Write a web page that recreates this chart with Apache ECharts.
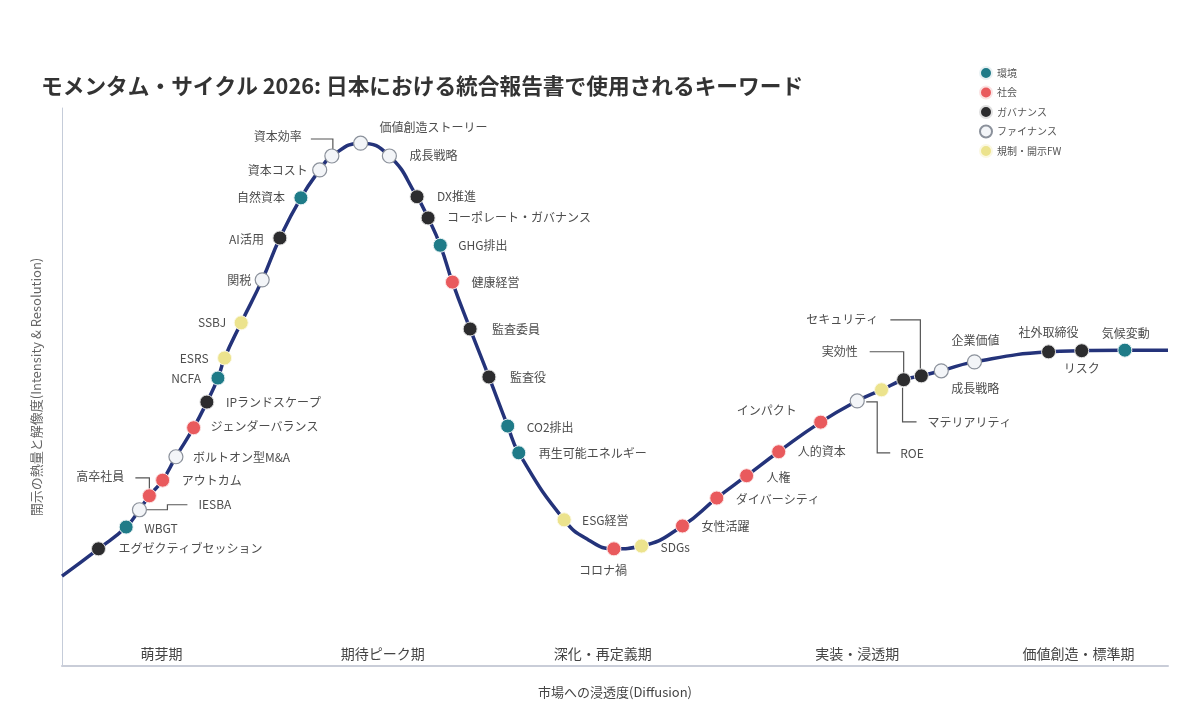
<!DOCTYPE html>
<html>
<head>
<meta charset="utf-8">
<script src="https://cdn.jsdelivr.net/npm/echarts@6/dist/echarts.min.js"></script>
<style>
  html, body { margin: 0; background: #fff; }
  #chart { width: 1200px; height: 716px; }
</style>
</head>
<body>
<div id="chart"></div>
<script>
// legend groups
const groups = ['環境', '社会', 'ガバナンス', 'ファイナンス', '規制・開示FW'];

// keywords along the cycle (left → right)
const keywords = [
  'エグゼクティブセッション', 'WBGT', 'IESBA', '高卒社員', 'アウトカム', 'ボルトオン型M&A',
  'ジェンダーバランス', 'IPランドスケープ', 'NCFA', 'ESRS', 'SSBJ', '関税', 'AI活用', '自然資本',
  '資本コスト', '資本効率', '価値創造ストーリー', '成長戦略', 'DX推進', 'コーポレート・ガバナンス',
  'GHG排出', '健康経営', '監査委員', '監査役', 'CO2排出', '再生可能エネルギー', 'ESG経営',
  'コロナ禍', 'SDGs', '女性活躍', 'ダイバーシティ', '人権', '人的資本', 'インパクト', 'ROE',
  'マテリアリティ', '実効性', 'セキュリティ', '成長戦略', '企業価値', '社外取締役', 'リスク', '気候変動'
];
const keywordGroup = [
  'ガバナンス', '環境', 'ファイナンス', '社会', '社会', 'ファイナンス',
  '社会', 'ガバナンス', '環境', '規制・開示FW', '規制・開示FW', 'ファイナンス', 'ガバナンス', '環境',
  'ファイナンス', 'ファイナンス', 'ファイナンス', 'ファイナンス', 'ガバナンス', 'ガバナンス',
  '環境', '社会', 'ガバナンス', 'ガバナンス', '環境', '環境', '規制・開示FW',
  '社会', '規制・開示FW', '社会', '社会', '社会', '社会', '社会', 'ファイナンス',
  '規制・開示FW', 'ガバナンス', 'ガバナンス', 'ファイナンス', 'ファイナンス', 'ガバナンス', 'ガバナンス', '環境'
];
const diffusion = [
  3.3, 5.8, 7.0, 7.9, 9.1, 10.3,
  11.9, 13.1, 14.1, 14.7, 16.2, 18.1, 19.7, 21.6,
  23.3, 24.4, 27.0, 29.6, 32.1, 33.1,
  34.2, 35.3, 36.9, 38.6, 40.3, 41.3, 45.4,
  49.9, 52.4, 56.1, 59.2, 61.9, 64.8, 68.6, 71.9,
  74.1, 76.1, 77.7, 79.5, 82.5, 89.2, 92.2, 96.1
];
const intensity = [
  21.0, 24.9, 28.0, 30.5, 33.3, 37.5,
  42.7, 47.3, 51.6, 55.2, 61.5, 69.2, 76.7, 83.9,
  88.9, 91.4, 93.7, 91.4, 84.1, 80.3,
  75.4, 68.8, 60.4, 51.8, 43.0, 38.2, 26.2,
  21.0, 21.5, 25.1, 30.1, 34.1, 38.4, 43.7, 47.5,
  49.5, 51.3, 52.0, 52.9, 54.5, 56.3, 56.5, 56.6
];
// extra curve points (ends and trough)
const curveX = [0, 47.6, 100];
const curveY = [16.1, 22.6, 56.6];

// phase labels along the x axis
const phases = ['萌芽期', '期待ピーク期', '深化・再定義期', '実装・浸透期', '価値創造・標準期'];
const phaseAt = [9.0, 29.0, 48.9, 71.9, 91.9];

// label placement per keyword: [dx, dy, align] in px from the dot
const labelPos = [
  [20, 0, 'left'], [18, 1, 'left'], [59, -5, 'left'], [-25, -19, 'right'], [19, 0, 'left'], [17, 1, 'left'],
  [17, -1, 'left'], [19, 0, 'left'], [-17, 0, 'right'], [-16, 0, 'right'], [-15, 0, 'right'], [-11, 1, 'right'],
  [-16, 1, 'right'], [-16, 0, 'right'],
  [-12, 0, 'right'], [-30, -20, 'right'], [19, -16, 'left'], [20, -1, 'left'], [20, 0, 'left'], [19, 0, 'left'],
  [18, 0, 'left'], [19, 0, 'left'], [22, 0, 'left'], [21, 0, 'left'], [19, 1, 'left'], [20, 1, 'left'], [18, 1, 'left'],
  [-11, 22, 'center'], [19, 1, 'left'], [19, 0, 'left'], [19, 1, 'left'], [20, 2, 'left'], [19, 0, 'left'],
  [-24, -12, 'right'], [43, 52, 'left'],
  [46, 33, 'left'], [-46, -28, 'right'], [-43, -56, 'right'], [10, 18, 'left'], [1, -21, 'center'],
  [0, -19, 'center'], [0, 18, 'center'], [1, -17, 'center']
];

// elbow leader lines, px offsets from the dot
const leaders = {
  2: [[6, 0], [28, 0], [28, -5], [48, -5]],
  3: [[0, -4], [0, -18], [-14, -18]],
  15: [[1, -5], [1, -17], [-21, -17]],
  34: [[9, 1], [20, 1], [20, 52], [33, 52]],
  35: [[21, -2], [21, 32], [35, 32]],
  36: [[0, -4], [0, -28], [-34, -28]],
  37: [[-1, -5], [-1, -56], [-31, -56]]
};

const groupStyle = {
  '環境': { color: '#1f7b88', borderColor: '#e8f1f3', borderWidth: 1, opacity: 1 },
  '社会': { color: '#e95a5d', borderColor: '#fbe3e3', borderWidth: 1, opacity: 1 },
  'ガバナンス': { color: '#2c2c2e', borderColor: '#e0e0e0', borderWidth: 1, opacity: 1 },
  'ファイナンス': { color: '#f3f5f8', borderColor: '#8b919b', borderWidth: 1.2, opacity: 1 },
  '規制・開示FW': { color: '#ece38d', borderColor: '#fbf8e2', borderWidth: 1, opacity: 1 }
};

const FONT = '"Noto Sans CJK JP", "Noto Sans", sans-serif';

const curve = keywords
  .map((_, i) => [diffusion[i], intensity[i]])
  .concat(curveX.map((x, i) => [x, curveY[i]]))
  .sort((a, b) => a[0] - b[0]);

const chart = echarts.init(document.getElementById('chart'));

const scatterSeries = groups.map((g) => ({
  name: g,
  type: 'scatter',
  symbol: 'circle',
  symbolSize: 14,
  z: 5,
  itemStyle: groupStyle[g],
  data: keywords
    .map((k, i) => ({ i, k }))
    .filter(({ i }) => keywordGroup[i] === g)
    .map(({ i, k }) => ({
      name: k,
      value: [diffusion[i], intensity[i]],
      label: {
        show: true,
        position: 'inside',
        formatter: k,
        offset: [labelPos[i][0], labelPos[i][1]],
        align: labelPos[i][2],
        verticalAlign: 'middle',
        color: '#4d4d4d',
        fontSize: 12,
        fontFamily: FONT
      }
    })),
  emphasis: { disabled: true }
}));

chart.setOption({
  animation: false,
  title: {
    text: 'モメンタム・サイクル 2026: 日本における統合報告書で使用されるキーワード',
    left: 36,
    top: 70,
    textStyle: { fontSize: 21.7, fontWeight: 'bold', color: '#333', fontFamily: FONT }
  },
  legend: {
    data: groups,
    orient: 'vertical',
    left: 974,
    top: 61,
    itemWidth: 12,
    itemHeight: 12,
    itemGap: 5.5,
    textStyle: { fontSize: 10, color: '#555', fontFamily: FONT }
  },
  grid: { left: 62, right: 32, top: 108, bottom: 50 },
  xAxis: {
    type: 'value',
    min: 0,
    max: 100,
    name: '市場への浸透度(Diffusion)',
    nameLocation: 'middle',
    nameGap: 20,
    nameTextStyle: { fontSize: 13, color: '#444', fontFamily: FONT },
    axisLine: { show: true, lineStyle: { color: '#c9cdd8', width: 2 } },
    axisTick: { show: false },
    splitLine: { show: false },
    axisLabel: {
      customValues: phaseAt,
      inside: true,
      margin: 5,
      fontSize: 14,
      color: '#444',
      fontFamily: FONT,
      formatter: (v) => phases[phaseAt.indexOf(v)] ?? ''
    }
  },
  yAxis: {
    type: 'value',
    min: 0,
    max: 100,
    name: '開示の熱量と解像度(Intensity & Resolution)',
    nameLocation: 'middle',
    nameGap: 19,
    nameTextStyle: { fontSize: 13, color: '#666', fontFamily: FONT },
    axisLine: { show: true, lineStyle: { color: '#c5ccd9', width: 1 } },
    axisTick: { show: false },
    axisLabel: { show: false },
    splitLine: { show: false }
  },
  series: [
    {
      name: 'curve',
      type: 'line',
      data: curve,
      smooth: 0.5,
      showSymbol: false,
      z: 3,
      lineStyle: { color: '#24337a', width: 3.5 },
      emphasis: { disabled: true }
    },
    ...scatterSeries
  ]
});

// leader lines, anchored to the dots through the grid's scales
const drawLeaders = () => {
  const elements = Object.keys(leaders).map((key) => {
    const i = Number(key);
    const [px, py] = chart.convertToPixel({ gridIndex: 0 }, [diffusion[i], intensity[i]]);
    return {
      type: 'polyline',
      z: 1,
      shape: { points: leaders[i].map(([dx, dy]) => [px + dx, py + dy]) },
      style: { stroke: '#555', lineWidth: 1.2, fill: null }
    };
  });
  chart.setOption({ graphic: elements });
};
drawLeaders();
</script>
</body>
</html>
